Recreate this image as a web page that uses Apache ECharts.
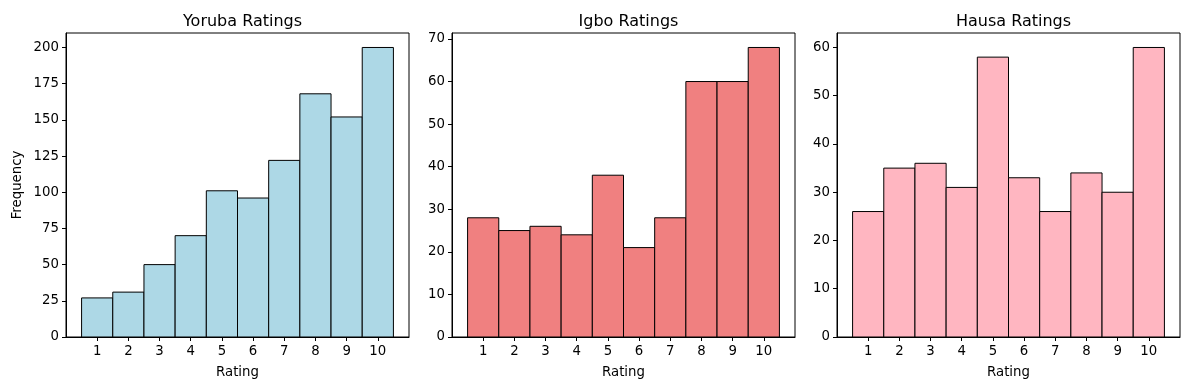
<!DOCTYPE html>
<html>
<head>
<meta charset="utf-8">
<script src="https://cdn.jsdelivr.net/npm/echarts@6/dist/echarts.min.js"></script>
<style>
  html, body { margin: 0; padding: 0; background: #fff; }
  #chart { width: 1190px; height: 390px; }
</style>
</head>
<body>
<div id="chart"></div>
<script>
// rating bins 1..10, each bar spans [r - 0.5, r + 0.5]
const ratings = [1, 2, 3, 4, 5, 6, 7, 8, 9, 10];
const yorubaCounts = [27, 31, 50, 70, 101, 96, 122, 168, 152, 200];
const igboCounts = [28, 25, 26, 24, 38, 21, 28, 60, 60, 68];
const hausaCounts = [26, 35, 36, 31, 58, 33, 26, 34, 30, 60];
const titles = ['Yoruba Ratings', 'Igbo Ratings', 'Hausa Ratings'];
const yorubaTicks = [0, 25, 50, 75, 100, 125, 150, 175, 200];
const igboTicks = [0, 10, 20, 30, 40, 50, 60, 70];
const hausaTicks = [0, 10, 20, 30, 40, 50, 60];

const panels = [
  { counts: yorubaCounts, ticks: yorubaTicks, color: '#ADD8E6', left: 66 },
  { counts: igboCounts, ticks: igboTicks, color: '#F08080', left: 452 },
  { counts: hausaCounts, ticks: hausaTicks, color: '#FFB6C1', left: 837 }
];
const gridW = 343;
const gridTop = 33;
const gridH = 304;
const font = 'DejaVu Sans';

const chart = echarts.init(document.getElementById('chart'));

const option = {
  animation: false,
  backgroundColor: '#fff',
  title: panels.map((p, i) => ({
    text: titles[i],
    left: p.left + gridW / 2,
    top: 9,
    textAlign: 'center',
    textStyle: { fontFamily: font, fontSize: 16, fontWeight: 'normal', color: '#000' }
  })),
  grid: panels.map(p => ({
    left: p.left, top: gridTop, width: gridW, height: gridH,
    show: true, borderColor: '#000', borderWidth: 1, backgroundColor: 'transparent'
  })),
  xAxis: panels.map((p, i) => ({
    type: 'value',
    gridIndex: i,
    min: 0,
    max: 11,
    name: 'Rating',
    nameLocation: 'middle',
    nameGap: 29,
    nameTextStyle: { fontFamily: font, fontSize: 13.3, color: '#000' },
    axisLine: { show: true, onZero: false, lineStyle: { color: '#000', width: 1 } },
    axisTick: { show: true, length: 4, customValues: ratings, lineStyle: { color: '#000' } },
    axisLabel: { customValues: ratings, margin: 8, fontFamily: font, fontSize: 13.3, color: '#000' },
    splitLine: { show: false }
  })),
  yAxis: panels.map((p, i) => ({
    type: 'value',
    gridIndex: i,
    min: 0,
    max: Math.max(...p.counts) * 1.05,
    name: i === 0 ? 'Frequency' : '',
    nameLocation: 'middle',
    nameGap: 42,
    nameTextStyle: { fontFamily: font, fontSize: 13.3, color: '#000' },
    axisLine: { show: true, lineStyle: { color: '#000', width: 1 } },
    axisTick: { show: true, length: 4, customValues: p.ticks, lineStyle: { color: '#000' } },
    axisLabel: { customValues: p.ticks, margin: 7, fontFamily: font, fontSize: 13.3, color: '#000' },
    splitLine: { show: false }
  })),
  series: panels.map((p, i) => ({
    type: 'custom',
    xAxisIndex: i,
    yAxisIndex: i,
    data: ratings.map((r, k) => [r - 0.5, r + 0.5, p.counts[k]]),
    renderItem: (params, api) => {
      const tl = api.coord([api.value(0), api.value(2)]);
      const br = api.coord([api.value(1), 0]);
      return {
        type: 'rect',
        shape: { x: tl[0], y: tl[1], width: br[0] - tl[0], height: br[1] - tl[1] },
        style: { fill: p.color, stroke: '#000', lineWidth: 1 }
      };
    }
  }))
};

chart.setOption(option);
</script>
</body>
</html>
